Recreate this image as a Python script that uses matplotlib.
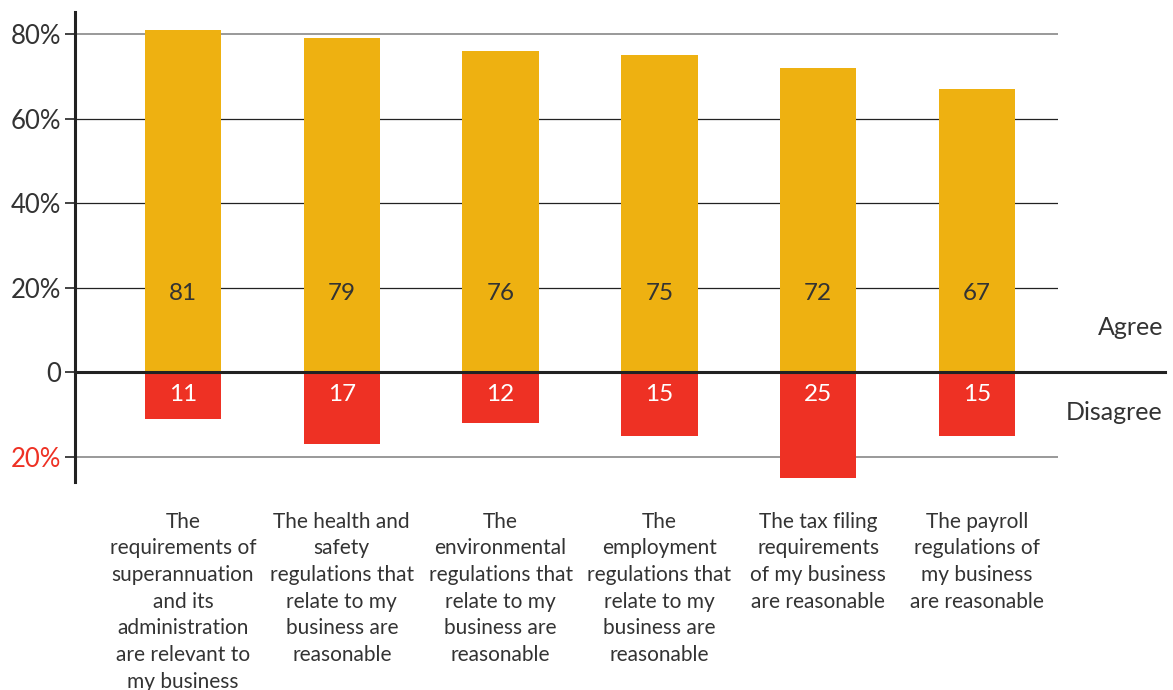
import matplotlib
matplotlib.use("Agg")
import matplotlib.pyplot as plt

plt.rcParams['font.family'] = ['Lato', 'DejaVu Sans']

categories = [
    "The\nrequirements of\nsuperannuation\nand its\nadministration\nare relevant to\nmy business",
    "The health and\nsafety\nregulations that\nrelate to my\nbusiness are\nreasonable",
    "The\nenvironmental\nregulations that\nrelate to my\nbusiness are\nreasonable",
    "The\nemployment\nregulations that\nrelate to my\nbusiness are\nreasonable",
    "The tax filing\nrequirements\nof my business\nare reasonable",
    "The payroll\nregulations of\nmy business\nare reasonable",
]
agree = [81, 79, 76, 75, 72, 67]
disagree = [11, 17, 12, 15, 25, 15]
ytick_vals = [80, 60, 40, 20, 0, -20]
ytick_labels = ["80%", "60%", "40%", "20%", "0", "20%"]

YELLOW = "#EEB111"
RED = "#EE3124"
TEXT = "#333333"

fig = plt.figure(figsize=(11.73, 6.9), dpi=100)
ax = fig.add_axes([75/1173, 208/690, (1058-75)/1173, (482-12)/690])

x = list(range(len(categories)))
ax.bar(x, agree, width=0.48, color=YELLOW, zorder=2)
ax.bar(x, [-d for d in disagree], width=0.48, color=RED, zorder=2)

for xi, a, d in zip(x, agree, disagree):
    ax.text(xi, 18.6, str(a), ha="center", va="center", fontsize=17.5, color=TEXT, zorder=3)
    ax.text(xi, -5.4, str(d), ha="center", va="center", fontsize=17.5, color="white", zorder=3)

ax.set_xlim(-0.68, 5.51)
ax.set_ylim(-26, 85.2)

# gridlines
for v in [60, 40, 20]:
    ax.axhline(v, color="#222222", lw=0.9, zorder=1)
for v in [80, -20]:
    ax.axhline(v, color="#888888", lw=1.2, zorder=1)
ax.axhline(0, xmin=0, xmax=(1165-75)/(1058-75), color="#222222", lw=2.2, zorder=4, clip_on=False)

ax.set_yticks(ytick_vals)
ax.set_yticklabels(ytick_labels, fontsize=18.5, color=TEXT)
ax.get_yticklabels()[-1].set_color(RED)
ax.tick_params(axis="y", length=7, width=1.2, color="#222222", pad=3)
ax.set_xticks([])

for s in ["top", "right", "bottom"]:
    ax.spines[s].set_visible(False)
ax.spines["left"].set_linewidth(2.2)
ax.spines["left"].set_color("#222222")

for xi, c in zip(x, categories):
    ax.text(xi, -33.0, c, ha="center", va="top", fontsize=15, color=TEXT,
            linespacing=1.42, clip_on=False)

fig.text(1163/1173, (690-328)/690, "Agree", ha="right", va="center", fontsize=18, color=TEXT)
fig.text(1163/1173, (690-412)/690, "Disagree", ha="right", va="center", fontsize=18, color=TEXT)

fig.savefig("out.png", dpi=100)
